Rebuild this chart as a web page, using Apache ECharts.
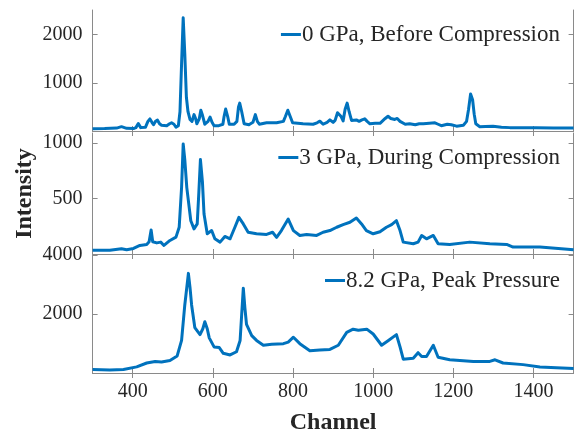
<!DOCTYPE html>
<html>
<head>
<meta charset="utf-8">
<script src="https://cdn.jsdelivr.net/npm/echarts@6/dist/echarts.min.js"></script>
<style>html,body{margin:0;padding:0;background:#fff}#c{width:579px;height:436px}</style>
</head>
<body>
<div id="c"></div>
<script>
const xTicks = [400, 600, 800, 1000, 1200, 1400];
const yTicks1 = [1000, 2000];
const yTicks2 = [500, 1000];
const yTicks3 = [2000, 4000];
const names = ['0 GPa, Before Compression', '3 GPa, During Compression', '8.2 GPa, Peak Pressure'];

const ch0 = [300,330,360,372,385,402,408,414,420,432,438,443,448,452,457,462,467,472,485,492,497,503,508,514,518,522,526,530,534,538,543,548,553,557,560,566,570,574,580,588,593,598,603,615,625,628,632,637,641,653,660,664,667,672,678,690,700,706,711,716,734,759,776,781,787,793,799,825,850,860,867,875,885,892,900,905,911,915,920,925,930,935,940,946,958,965,972,979,985,992,1005,1017,1030,1037,1044,1054,1060,1067,1080,1091,1105,1115,1125,1140,1154,1162,1170,1185,1195,1208,1225,1233,1238,1243,1248,1252,1256,1266,1280,1299,1320,1341,1370,1407,1450,1500];
const int0 = [48,50,60,90,55,50,70,155,70,80,200,250,180,130,200,225,150,120,110,150,170,140,80,110,400,1400,2347,1600,700,400,240,200,340,260,150,250,430,330,140,200,290,180,110,110,140,300,456,300,140,140,200,500,578,400,150,130,180,340,200,140,170,170,200,300,430,300,170,150,140,170,204,140,180,230,180,220,380,400,300,210,450,578,400,220,230,200,230,252,200,150,160,160,260,306,260,240,260,200,140,150,130,150,150,160,170,140,110,140,130,100,120,200,450,769,650,350,150,90,95,100,80,70,70,65,62,60];

const ch1 = [300,343,372,385,402,418,435,441,446,450,460,470,478,493,508,516,522,526,530,535,545,553,561,565,569,574,578,586,597,605,618,630,643,655,665,676,688,709,734,749,759,771,788,801,817,834,859,875,892,909,925,942,958,971,983,1000,1017,1033,1046,1058,1067,1075,1100,1112,1121,1133,1150,1162,1191,1241,1291,1333,1349,1416,1500];
const int1 = [33,33,48,38,50,77,86,110,217,110,100,107,77,122,152,241,600,991,850,598,300,226,271,550,851,650,360,182,211,137,107,158,137,241,330,271,196,182,176,196,150,211,315,211,167,176,167,196,211,241,265,286,324,271,211,182,200,241,265,300,211,107,92,107,167,137,167,92,86,107,92,86,62,62,39];

const ch2 = [300,343,377,410,435,456,472,493,511,522,530,539,543,547,555,568,575,580,586,591,603,616,626,643,659,668,672,676,680,684,697,709,726,747,776,788,801,817,842,867,892,913,934,950,963,984,1000,1021,1038,1058,1067,1075,1100,1112,1121,1133,1150,1162,1191,1250,1291,1304,1324,1374,1416,1457,1500];
const int2 = [120,98,120,207,339,393,370,426,579,1104,2306,3377,2900,2306,1541,1300,1500,1738,1500,1191,885,863,667,612,721,1104,2000,2874,2200,1650,1268,1104,940,973,994,1049,1213,994,754,776,800,940,1377,1486,1450,1486,1322,940,1104,1300,885,470,500,688,557,557,940,535,448,393,393,448,339,284,207,175,153];

const chans = [ch0, ch1, ch2];
const ints = [int0, int1, int2];
const yTicks = [yTicks1, yTicks2, yTicks3];
const yMax = [2510, 1090, 4000];
const grids = [{top:10,height:121},{top:133,height:121},{top:255,height:122}];

const font = 'Liberation Serif';
const lineCol = '#8a8a8a';
const txtCol = '#262626';
const blue = '#0072BD';
const plain = v => String(Math.round(v));

const grid = [], xAxis = [], yAxis = [], series = [], legend = [];
const legendTops = [23, 146, 269];
for (let i = 0; i < 3; i++) {
  grid.push({left: 92.6, right: 5.4, top: grids[i].top, height: grids[i].height});
  const baseX = {
    type: 'value', gridIndex: i, min: 300, max: 1500,
    axisLine: {show: true, lineStyle: {color: lineCol, width: 1}},
    axisTick: {show: true, inside: true, length: 5, customValues: xTicks, lineStyle: {color: lineCol}},
    splitLine: {show: false}
  };
  xAxis.push(Object.assign({}, baseX, {
    position: 'bottom',
    axisLabel: {show: i === 2, customValues: xTicks, formatter: plain, fontFamily: font, fontSize: 20, color: txtCol, margin: 9},
    name: i === 2 ? 'Channel' : '', nameLocation: 'middle', nameGap: 38,
    nameTextStyle: {fontFamily: font, fontSize: 24, fontWeight: 'bold', color: txtCol}
  }));
  xAxis.push(Object.assign({}, baseX, {position: 'top', axisLabel: {show: false}}));
  const baseY = {
    type: 'value', gridIndex: i, min: 0, max: yMax[i],
    axisLine: {show: true, lineStyle: {color: lineCol, width: 1}},
    axisTick: {show: true, inside: true, length: 5, customValues: yTicks[i], lineStyle: {color: lineCol}},
    splitLine: {show: false}
  };
  yAxis.push(Object.assign({}, baseY, {
    position: 'left',
    axisLabel: {show: true, customValues: yTicks[i], formatter: plain, fontFamily: font, fontSize: 20, color: txtCol, margin: 10}
  }));
  yAxis.push(Object.assign({}, baseY, {position: 'right', axisLabel: {show: false}}));
  series.push({
    name: names[i], type: 'line', xAxisIndex: 2 * i, yAxisIndex: 2 * i,
    data: chans[i].map((c, k) => [c, ints[i][k]]),
    showSymbol: false, symbol: 'none', smooth: false,
    lineStyle: {color: blue, width: 3, join: 'round'}, itemStyle: {color: blue}, z: 3
  });
  legend.push({
    data: [names[i]], right: 19, top: legendTops[i], padding: 0,
    icon: 'rect', itemWidth: 20, itemHeight: 3,
    textStyle: {fontFamily: font, fontSize: 23, color: txtCol, padding: [0, 0, 0, -4]},
    selectedMode: false
  });
}

const chart = echarts.init(document.getElementById('c'), null, {renderer: 'canvas'});
chart.setOption({
  animation: false,
  backgroundColor: '#fff',
  grid, xAxis, yAxis, series, legend,
  graphic: [{
    type: 'text',
    rotation: Math.PI / 2,
    style: {text: 'Intensity', font: 'bold 24px "Liberation Serif"', fill: txtCol, align: 'center', verticalAlign: 'middle'},
    x: 25, y: 193.5
  }]
});
</script>
</body>
</html>
